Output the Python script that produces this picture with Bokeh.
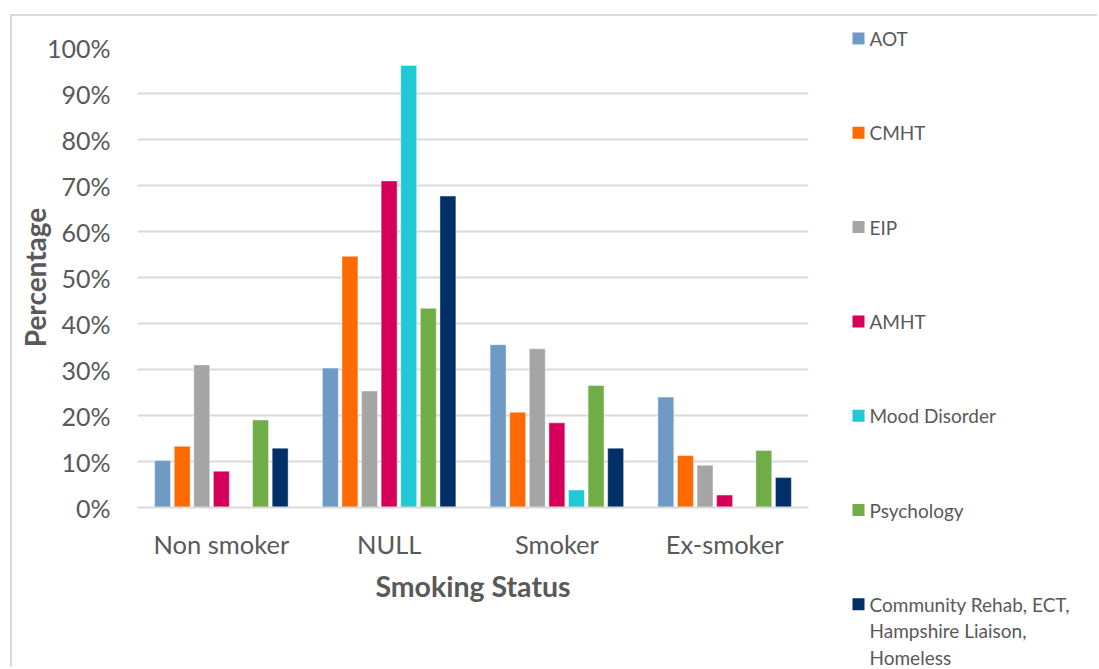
from bokeh.plotting import figure
from bokeh.models import FactorRange, Range1d, NumeralTickFormatter, ColumnDataSource
from bokeh.core.properties import value
from bokeh.transform import dodge
from bokeh.embed import file_html
from bokeh.resources import INLINE

# Smoking status by service team (share of each team's patients, %)
categories = ["Non smoker", "NULL", "Smoker", "Ex-smoker"]
teams = ["AOT", "CMHT", "EIP", "AMHT", "Mood Disorder", "Psychology",
         "Community Rehab, ECT,\nHampshire Liaison,\nHomeless"]
aot = [10.2, 30.3, 35.4, 24.0]
cmht = [13.3, 54.6, 20.7, 11.3]
eip = [31.0, 25.3, 34.5, 9.2]
amht = [7.9, 71.0, 18.4, 2.7]
mood_disorder = [0.0, 96.1, 3.8, 0.0]
psychology = [19.0, 43.3, 26.5, 12.4]
community_rehab = [12.9, 67.7, 12.9, 6.5]
y_ticks = [0, 0.1, 0.2, 0.3, 0.4, 0.5, 0.6, 0.7, 0.8, 0.9, 1.0]

series = [aot, cmht, eip, amht, mood_disorder, psychology, community_rehab]
colors = ["#6F9AC4", "#FF6A00", "#A5A5A5", "#D6005A", "#21C9D4", "#70AD47", "#003067"]

FONT = "Lato"
TEXT = "#595959"
GRID = "#D9D9D9"

data = {"cat": categories}
for i, vals in enumerate(series):
    data[f"s{i}"] = [v / 100 for v in vals]
source = ColumnDataSource(data)

# ---- bar chart ----
p = figure(
    x_range=FactorRange(factors=categories, range_padding=0),
    y_range=Range1d(0, 1.0),
    width=1087, height=653,
    min_border_left=125, min_border_right=291,
    min_border_top=31, min_border_bottom=162,
    output_backend="svg", toolbar_location=None,
)
p.styles = {"margin-left": "10px", "margin-top": "14px",
            "border-top": "2px solid #D9D9D9", "border-left": "2px solid #D9D9D9"}
p.outline_line_color = None

step = 0.1168
bar_w = 0.095
for i, col in enumerate(colors):
    p.vbar(x=dodge("cat", (i - 3) * step, range=p.x_range), top=f"s{i}",
           width=bar_w, source=source, fill_color=col,
           line_color="white", line_width=0.6, line_alpha=0.7)

p.yaxis.ticker = y_ticks
p.yaxis.formatter = NumeralTickFormatter(format="0%")
p.yaxis.axis_line_color = None
p.yaxis.major_tick_line_color = None
p.yaxis.minor_tick_line_color = None
p.yaxis.major_label_standoff = 21
p.yaxis.major_label_text_font = FONT
p.yaxis.major_label_text_font_size = "25px"
p.yaxis.major_label_text_color = TEXT
p.yaxis.axis_label = "Percentage"
p.yaxis.axis_label_text_font = FONT
p.yaxis.axis_label_text_font_style = "bold"
p.yaxis.axis_label_text_font_size = "28px"
p.yaxis.axis_label_text_color = TEXT
p.yaxis.axis_label_standoff = -8

p.xaxis.axis_line_color = GRID
p.xaxis.axis_line_width = 2
p.xaxis.major_tick_line_color = None
p.xaxis.minor_tick_line_color = None
p.xaxis.major_label_standoff = 15
p.xaxis.major_label_text_font = FONT
p.xaxis.major_label_text_font_size = "25.5px"
p.xaxis.major_label_text_color = TEXT
p.xaxis.axis_label = "Smoking Status"
p.xaxis.axis_label_text_font = FONT
p.xaxis.axis_label_text_font_style = "bold"
p.xaxis.axis_label_text_font_size = "28.5px"
p.xaxis.axis_label_text_color = TEXT
p.xaxis.axis_label_standoff = 7

p.xgrid.grid_line_color = None
p.ygrid.grid_line_color = GRID
p.ygrid.grid_line_width = 2

# ---- legend panel, laid over the right-hand margin (page-pixel coordinates) ----
leg = figure(
    x_range=Range1d(818, 1099), y_range=Range1d(669, 16),
    width=281, height=653,
    min_border_left=0, min_border_right=0, min_border_top=0, min_border_bottom=0,
    x_axis_type=None, y_axis_type=None,
    output_backend="svg", toolbar_location=None,
)
leg.styles = {"position": "absolute", "left": "818px", "top": "16px"}
leg.grid.grid_line_color = None
leg.outline_line_color = None
leg.background_fill_alpha = 0
leg.border_fill_alpha = 0

item_top, item_pitch, line_pitch = 38, 94.3, 26.5
sq_x, txt_x = 858, 869
sq_y = [item_top + i * item_pitch for i in range(len(teams))]
leg.scatter(x=[sq_x] * len(teams), y=sq_y, marker="square", size=12,
            fill_color=colors, line_color=None)

line_x, line_y, line_txt = [], [], []
for i, t in enumerate(teams):
    for k, part in enumerate(t.split("\n")):
        line_x.append(txt_x)
        line_y.append(sq_y[i] + k * line_pitch)
        line_txt.append(part)
leg.text(x=line_x, y=line_y, text=line_txt, text_baseline="middle",
         text_align="left", text_font=value(FONT), text_font_size="19px",
         text_color=TEXT)

open("out.html", "w").write(file_html([p, leg], INLINE))
